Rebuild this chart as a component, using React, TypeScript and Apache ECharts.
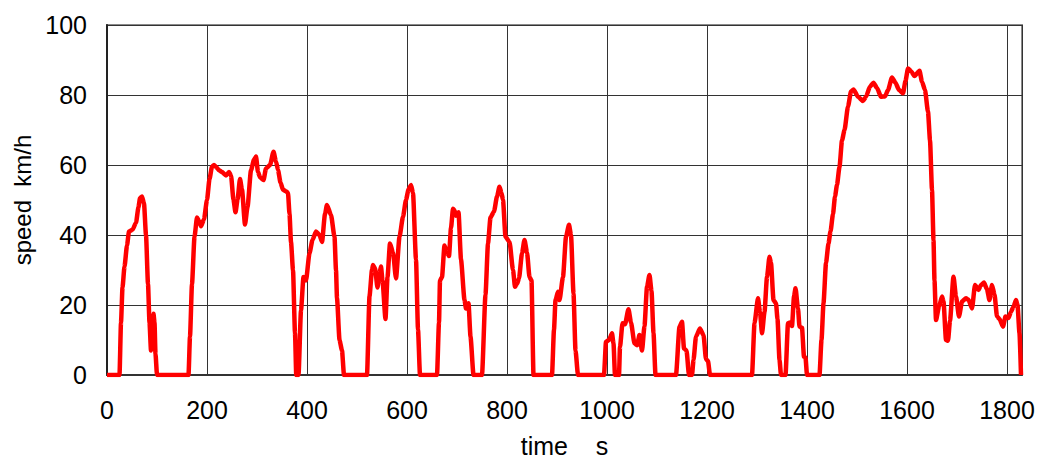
import React, { useEffect, useRef } from "react";
import * as echarts from "echarts";

const timeS: number[] = [
  0, 25, 28, 31, 35, 40, 44, 51, 58, 63, 66, 70, 74, 78, 82, 85, 88, 91, 93, 95, 97, 100,
  163, 166, 170, 175, 180, 184, 188, 194, 200, 205, 210, 214, 218, 224, 230, 238, 244, 248, 253, 257,
  261, 266, 270, 276, 281, 288, 294, 298, 302, 306, 313, 318, 326, 333, 338, 342, 347, 352, 358, 362,
  365, 368, 372, 376, 378.5, 383, 388, 393, 398, 405, 411, 418, 425, 430, 436, 440, 448, 455, 458, 460,
  465, 470, 474, 520, 525, 530, 532, 536, 541, 545, 548, 551, 557, 561, 566, 572, 578, 585, 592, 598,
  603, 608, 612, 618, 622, 626, 660, 664, 666, 670, 675, 680, 684, 688, 692, 695, 698, 703, 708, 715,
  718, 723, 727, 733, 750, 757, 762, 767, 774, 780, 785, 789, 792, 797, 805, 812, 816, 820, 824, 830,
  835, 840, 845, 849, 853, 890, 894, 897, 902, 905, 912, 918, 924, 928, 933, 937, 942, 994, 998, 1004,
  1010, 1013, 1016, 1024, 1026, 1031, 1036, 1043, 1048, 1055, 1060, 1065, 1070, 1075, 1080, 1085, 1089,
  1093, 1097, 1138, 1145, 1150, 1154, 1159, 1164, 1170, 1173, 1178, 1186, 1193, 1198, 1202, 1206, 1290,
  1295, 1302, 1306, 1310, 1315, 1320, 1325, 1328, 1333, 1338, 1341, 1345, 1348, 1357, 1362, 1366, 1370,
  1374, 1377, 1382, 1385, 1390, 1394, 1397, 1400, 1425, 1429, 1433, 1438, 1443, 1447, 1452, 1456, 1460,
  1465, 1470, 1475, 1482, 1488, 1493, 1502, 1512, 1518, 1526, 1533, 1540, 1548, 1556, 1562, 1570, 1577,
  1584, 1592, 1597, 1602, 1608, 1615, 1625, 1630, 1636, 1642, 1646, 1650, 1653, 1655, 1658, 1664, 1670,
  1673, 1678, 1682, 1686, 1693, 1698, 1704, 1710, 1718, 1723, 1730, 1736, 1743, 1748, 1754, 1760, 1765,
  1770, 1775, 1780, 1785, 1792, 1797, 1803, 1808, 1813, 1818, 1821, 1825, 1828,
];

const speedKmh: number[] = [
  0, 0, 15, 25, 31, 37, 41, 41.5, 43.5, 48, 50.5, 51, 49, 40, 26, 15, 7, 12, 17.5, 15, 6, 0,
  0, 11, 26, 39.5, 45, 44, 42.5, 44.5, 50, 56, 59.5, 60, 59.5, 58.5, 58, 57, 58, 57, 50, 46.5,
  50, 56, 53, 43, 48, 58.5, 61.5, 62.4, 58, 56.5, 55.7, 59, 60, 63.8, 61, 58.6, 55, 52.9, 52.5, 52,
  46, 38, 30, 12, 0, 0, 18.5, 28, 27, 34.8, 38.6, 41, 40, 38, 46, 48.6, 45.7, 39.5, 30, 22,
  10, 7, 0, 0, 22.5, 30, 31.4, 30.5, 25, 29, 31, 27, 16, 28, 37.6, 35, 27.6, 39.5, 45.2, 50,
  53, 54.3, 52, 33, 13, 0, 0, 15, 27, 28, 37, 35, 34, 42, 47.5, 47, 45.5, 46.5, 33, 21.4,
  19, 20.5, 11, 0, 0, 23, 37.6, 45, 46.7, 51, 53.8, 52, 50, 39.5, 38, 30, 25.2, 26, 27.6, 34.8,
  38.6, 35, 28, 27, 0, 0, 13, 21.4, 23.8, 21.4, 28, 39.5, 42.9, 40, 23.3, 7, 0, 0, 9.5, 10,
  11.9, 9, 0, 0, 8, 14.8, 14.5, 18.8, 15, 9, 8.5, 11.4, 7, 14, 25.2, 28.6, 24,
  12, 0, 0, 13.8, 15.2, 7.6, 7, 0, 0, 4.3, 11, 13.3, 11.4, 4.5, 4, 0, 0,
  14.8, 21.9, 18, 11.9, 18, 28, 33.8, 32, 21.4, 20.5, 16, 4.3, 0, 0, 14.8, 15, 14,
  22.4, 24.8, 19, 13.8, 13.5, 5.2, 5, 0, 0, 10, 20.5, 32, 37.6, 41, 46, 51, 54.3,
  59.5, 67, 70, 76.7, 81, 81.6, 79.5, 78.3, 79.5, 82.4, 83.5, 82, 79.5, 79.6, 81.4, 85, 83.5,
  81.4, 80.5, 84, 87.6, 86.8, 85.4, 86.9, 83.8, 81.4, 75.2, 67.1, 52.9, 38.6, 27, 15.7, 19.5, 22.4,
  21, 10, 9.8, 15.5, 28.1, 22.4, 16.7, 21, 21.9, 21.5, 19, 25.7, 24.3, 25.7, 26.4, 24.5, 21.4,
  25.7, 23, 16.7, 16, 13.8, 16.7, 16.3, 18.1, 19.5, 21.4, 20, 11.9, 0,
];

const xTickLabels: number[] = [0, 200, 400, 600, 800, 1000, 1200, 1400, 1600, 1800];
const yTickLabels: number[] = [0, 20, 40, 60, 80, 100];

const FONT = "'Liberation Sans', Arial, sans-serif";

export default function App() {
  const ref = useRef<HTMLDivElement>(null);

  useEffect(() => {
    if (!ref.current) return;
    const chart = echarts.init(ref.current, undefined, { renderer: "svg" });
    const data = timeS.map((t, i) => [t, speedKmh[i]]);
    chart.setOption({
      animation: false,
      backgroundColor: "#ffffff",
      grid: {
        left: 107,
        top: 25,
        right: 20,
        bottom: 90,
        show: true,
        borderColor: "#8a8a8a",
        borderWidth: 2,
        backgroundColor: "transparent",
      },
      xAxis: {
        type: "value",
        min: 0,
        max: 1830,
        interval: 200,
        name: "time    s",
        nameLocation: "middle",
        nameGap: 58,
        nameTextStyle: { fontFamily: FONT, fontSize: 25, color: "#000" },
        axisLine: { show: true, onZero: false, lineStyle: { color: "#333", width: 2 } },
        axisTick: { show: false },
        axisLabel: {
          fontFamily: FONT,
          fontSize: 25,
          color: "#000",
          margin: 22,
          showMaxLabel: false,
          formatter: (v: number) => (xTickLabels.includes(v) ? String(v) : ""),
        },
        splitLine: { show: true, lineStyle: { color: "#333", width: 1 } },
      },
      yAxis: {
        type: "value",
        min: 0,
        max: 100,
        interval: 20,
        name: "speed  km/h",
        nameLocation: "middle",
        nameGap: 68,
        nameTextStyle: { fontFamily: FONT, fontSize: 24, color: "#000" },
        axisLine: { show: true, lineStyle: { color: "#222", width: 2 } },
        axisTick: { show: false },
        axisLabel: {
          fontFamily: FONT,
          fontSize: 25,
          color: "#000",
          margin: 20,
          formatter: (v: number) => (yTickLabels.includes(v) ? String(v) : ""),
        },
        splitLine: { show: true, lineStyle: { color: "#333", width: 1 } },
      },
      series: [
        {
          type: "line",
          data,
          showSymbol: false,
          smooth: 0.2,
          smoothMonotone: "x",
          lineStyle: { color: "#ff0000", width: 4.5 },
          clip: true,
        },
      ],
    });
    return () => chart.dispose();
  }, []);

  return (
    <div
      ref={ref}
      style={{ position: "fixed", left: 0, top: 0, width: 1042, height: 465 }}
    />
  );
}
